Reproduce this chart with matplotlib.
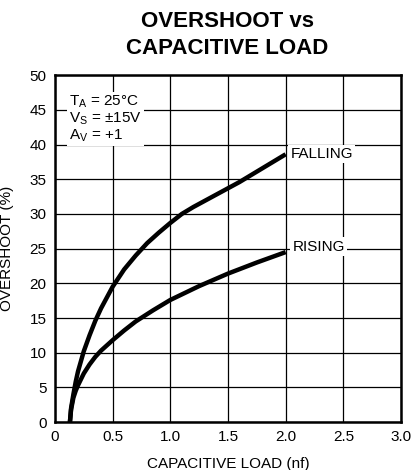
#Overshoot vs capacitive load for falling and rising edges
import numpy as np
import matplotlib.pyplot as plt

plt.rcParams['font.family'] = ['Liberation Sans', 'DejaVu Sans']

#capacitive load (nf) and overshoot (%) read per curve
falling_load = [0.13, 0.14, 0.16, 0.18, 0.2, 0.25, 0.3, 0.35, 0.4, 0.5, 0.6, 0.7, 0.8,
                0.9, 1.0, 1.1, 1.2, 1.4, 1.6, 1.8, 2.0]
falling_pct = [0, 2, 4, 5.8, 7.3, 10.2, 12.5, 14.6, 16.4, 19.5, 22, 24, 25.8,
               27.3, 28.7, 30, 31, 32.8, 34.6, 36.6, 38.6]

rising_load = [0.13, 0.14, 0.16, 0.18, 0.2, 0.25, 0.3, 0.35, 0.4, 0.5, 0.6, 0.7, 0.85,
               1.0, 1.25, 1.5, 1.75, 2.0]
rising_pct = [0, 1.8, 3.5, 4.5, 5.3, 7, 8.3, 9.4, 10.3, 11.8, 13.2, 14.5, 16.1,
              17.6, 19.6, 21.4, 23, 24.5]

x_ticks = [0, 0.5, 1.0, 1.5, 2.0, 2.5, 3.0]
x_labels = ["0", "0.5", "1.0", "1.5", "2.0", "2.5", "3.0"]
y_ticks = list(range(0, 55, 5))

fig = plt.figure(figsize=(4.13, 4.7), dpi=100)
ax = fig.add_axes([0.133, 0.102, 0.838, 0.738])

ax.plot(falling_load, falling_pct, c="black", lw=3.2, solid_capstyle="butt", solid_joinstyle="round")
ax.plot(rising_load, rising_pct, c="black", lw=3.2, solid_capstyle="butt", solid_joinstyle="round")

ax.set_xlim(0, 3.0)
ax.set_ylim(0, 50)
ax.set_xticks(x_ticks)
ax.set_xticklabels(x_labels)
ax.set_yticks(y_ticks)
ax.tick_params(length=0, labelsize=11, pad=6)
ax.grid(True, c="black", lw=0.9)
for s in ax.spines.values():
    s.set_linewidth(1.8)

box = dict(facecolor="white", edgecolor="none", pad=1.5)
ax.text(2.04, 38.6, "FALLING", fontsize=11, va="center", bbox=box)
ax.text(2.06, 25.3, "RISING", fontsize=11, va="center", bbox=box)

cond = "$\\mathregular{T_A}$ = 25°C\n$\\mathregular{V_S}$ = ±15V\n$\\mathregular{A_V}$ = +1"
ax.text(0.12, 47.3, cond, fontsize=11, va="top", linespacing=1.05, bbox=box)

ax.set_xlabel("CAPACITIVE LOAD (nf)", fontsize=11, labelpad=9)
ax.set_ylabel("OVERSHOOT (%)", fontsize=11, labelpad=11)

fig.text(0.55, 0.955, "OVERSHOOT vs", fontsize=16, fontweight="bold", ha="center", va="center")
fig.text(0.55, 0.897, "CAPACITIVE LOAD", fontsize=16, fontweight="bold", ha="center", va="center")

plt.savefig("out.png", dpi=100)
